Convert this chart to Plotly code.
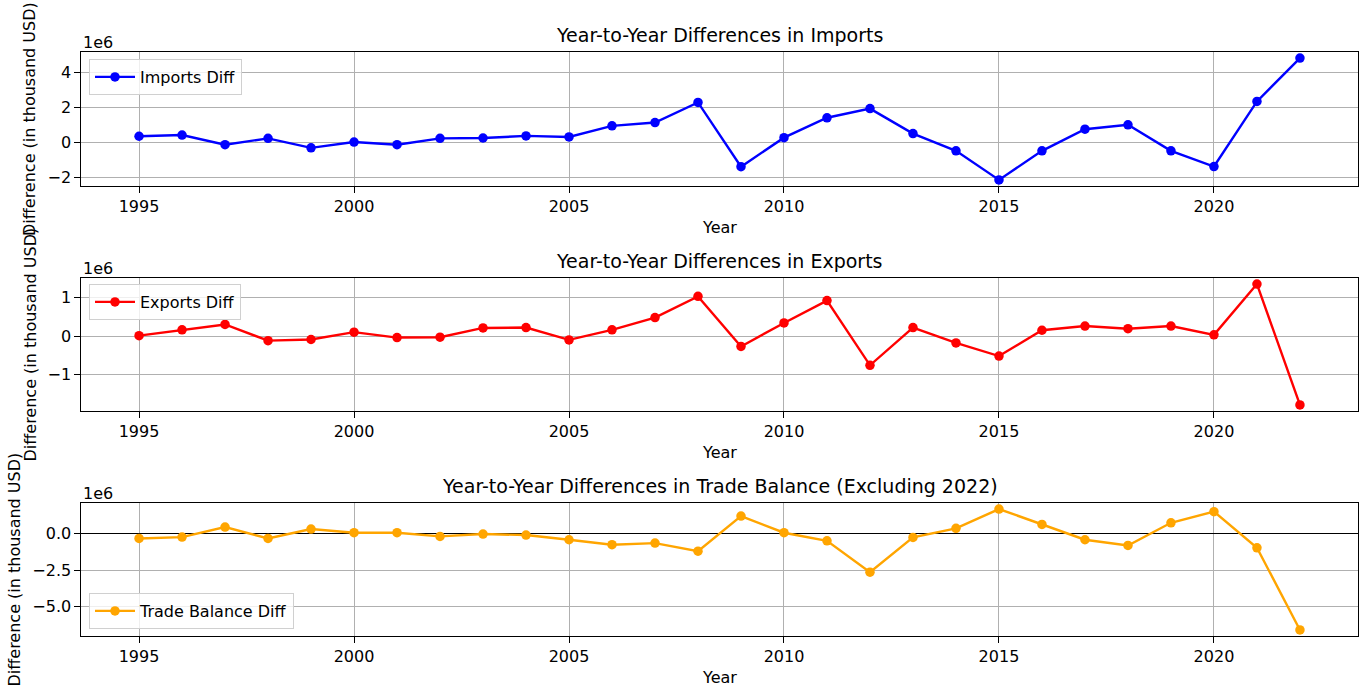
"""Year-to-year differences in imports, exports and trade balance (3 stacked panels)."""
import plotly.graph_objects as go
from plotly.subplots import make_subplots

# values in millions of thousand-USD (axis multiplier "1e6")
years = list(range(1995, 2023))
imports_diff = [0.35, 0.42, -0.13, 0.23, -0.31, 0.02, -0.13, 0.23, 0.25, 0.37,
                0.31, 0.94, 1.13, 2.27, -1.38, 0.27, 1.40, 1.92, 0.50, -0.48,
                -2.13, -0.48, 0.75, 1.00, -0.48, -1.37, 2.33, 4.79]
exports_diff = [0.01, 0.16, 0.30, -0.12, -0.09, 0.10, -0.04, -0.03, 0.21, 0.22,
                -0.10, 0.16, 0.48, 1.03, -0.27, 0.34, 0.92, -0.76, 0.22, -0.18,
                -0.52, 0.15, 0.26, 0.19, 0.26, 0.03, 1.35, -1.79]
balance_diff = [-0.32, -0.23, 0.46, -0.32, 0.32, 0.07, 0.07, -0.18, -0.02, -0.09,
                -0.41, -0.75, -0.64, -1.19, 1.21, 0.07, -0.48, -2.63, -0.25, 0.37,
                1.69, 0.64, -0.41, -0.80, 0.75, 1.51, -0.96, -6.58]

titles = [
    "Year-to-Year Differences in Imports",
    "Year-to-Year Differences in Exports",
    "Year-to-Year Differences in Trade Balance (Excluding 2022)",
]
series_names = ["Imports Diff", "Exports Diff", "Trade Balance Diff"]
colours = ["#0000ff", "#ff0000", "#ffa500"]
x_ticks = [1995, 2000, 2005, 2010, 2015, 2020]

FONT = "DejaVu Sans"
FS = 16        # ~10pt at the original dpi
FS_TITLE = 19  # ~12pt
W, H = 1364, 690
M_L, M_R, M_T, M_B = 81, 6, 52, 54
PH = H - M_T - M_B
PW = W - M_L - M_R


def py(pix):
    """Pixel row -> paper y."""
    return (H - M_B - pix) / PH


def px(pix):
    return (pix - M_L) / PW


def padded(vals, frac=0.05):
    lo, hi = min(vals), max(vals)
    pad = (hi - lo) * frac
    return [lo - pad, hi + pad]


# panel pixel boxes (top, bottom) and y-label column (left of tick labels)
panels = [(52, 186), (278, 411), (503, 636)]
ylabel_x = [30, 30, 14]
domains = [[py(b), py(t)] for t, b in panels]

fig = make_subplots(rows=3, cols=1)

all_series = [imports_diff, exports_diff, balance_diff]
legend_ids = ["legend", "legend2", "legend3"]
for i, vals in enumerate(all_series):
    fig.add_trace(
        go.Scatter(
            x=years, y=vals, mode="lines+markers", name=series_names[i],
            line=dict(color=colours[i], width=2.4),
            marker=dict(color=colours[i], size=9.5),
            legend=legend_ids[i],
        ),
        row=i + 1, col=1,
    )

axis_common = dict(
    showline=True, mirror=True, linecolor="black", linewidth=1.2,
    ticks="outside", ticklen=5.5, tickcolor="black", tickwidth=1.2,
    showgrid=True, gridcolor="#b0b0b0", gridwidth=1.2,
    tickfont=dict(family=FONT, size=FS, color="black"),
)
xr = padded(years)
y_ticks = [dict(dtick=2, tickformat="d"), dict(dtick=1, tickformat="d"),
           dict(dtick=2.5, tickformat=".1f")]
for i in range(3):
    n = "" if i == 0 else str(i + 1)
    fig.layout["xaxis" + n].update(
        range=xr, tickvals=x_ticks, zeroline=False, **axis_common
    )
    fig.layout["yaxis" + n].update(
        domain=domains[i], range=padded(all_series[i]), tick0=0,
        zeroline=(i == 2), zerolinecolor="black", zerolinewidth=1.3,
        **y_ticks[i], **axis_common
    )

annotations = []
label_font = dict(family=FONT, size=FS, color="black")
for i, (t, b) in enumerate(panels):
    annotations.append(dict(
        text=titles[i], x=0.5, y=py(t - 17), xref="paper", yref="paper",
        xanchor="center", yanchor="middle", showarrow=False,
        font=dict(family=FONT, size=FS_TITLE, color="black"),
    ))
    annotations.append(dict(
        text="1e6", x=0, y=py(t - 10), xref="paper", yref="paper",
        xanchor="left", yanchor="middle", showarrow=False, font=label_font,
    ))
    annotations.append(dict(
        text="Year", x=0.5, y=py(b + 41), xref="paper", yref="paper",
        xanchor="center", yanchor="middle", showarrow=False, font=label_font,
    ))
    annotations.append(dict(
        text="Difference (in thousand USD)", x=px(ylabel_x[i]),
        y=py((t + b) / 2), xref="paper", yref="paper",
        xanchor="center", yanchor="middle",
        textangle=-90, showarrow=False, font=label_font,
    ))

legend_style = dict(
    bgcolor="rgba(255,255,255,0.8)", bordercolor="#d0d0d0", borderwidth=1,
    font=dict(family=FONT, size=FS, color="black"),
    xref="paper", yref="paper", x=px(89), xanchor="left", itemwidth=40,
)

fig.update_layout(
    width=W, height=H,
    margin=dict(l=M_L, r=M_R, t=M_T, b=M_B),
    paper_bgcolor="white", plot_bgcolor="white",
    font=dict(family=FONT, size=FS, color="black"),
    showlegend=True,
    legend=dict(y=py(59), yanchor="top", **legend_style),
    legend2=dict(y=py(284), yanchor="top", **legend_style),
    legend3=dict(y=py(629), yanchor="bottom", **legend_style),
    annotations=annotations,
)

fig.write_html(
    "out.html",
    config={"displayModeBar": False},
    post_script="document.body.style.margin='0';",
)
